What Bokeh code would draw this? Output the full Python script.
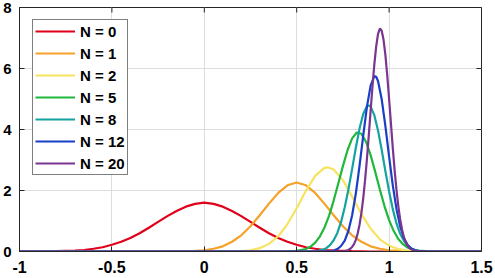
import math
from bokeh.plotting import figure
from bokeh.models import FixedTicker, Legend, LegendItem, Range1d
from bokeh.embed import file_html
from bokeh.resources import INLINE

# ---------------- data ----------------
labels = ["N = 0", "N = 1", "N = 2", "N = 5", "N = 8", "N = 12", "N = 20"]
colors = ["#e0001a", "#f5a12a", "#f7e35e", "#1fb83c", "#14a3a0", "#1a3fc7", "#7a3590"]

x0 = [-1.0, -0.9, -0.85, -0.8, -0.75, -0.7, -0.65, -0.6, -0.55, -0.5,
      -0.45, -0.4, -0.35, -0.3, -0.25, -0.2, -0.15, -0.1, -0.05, 0.0,
      0.05, 0.1, 0.15, 0.2, 0.25, 0.3, 0.35, 0.4, 0.45, 0.5,
      0.55, 0.6, 0.65, 0.7, 0.75, 0.8, 0.85, 0.9, 1.0, 1.5]
y0 = [0.0, 0.0, 0.005, 0.01, 0.02, 0.03, 0.05, 0.09, 0.14, 0.22,
      0.32, 0.44, 0.60, 0.78, 0.97, 1.16, 1.33, 1.47, 1.56, 1.60,
      1.56, 1.47, 1.33, 1.16, 0.97, 0.78, 0.60, 0.44, 0.32, 0.22,
      0.14, 0.09, 0.05, 0.03, 0.02, 0.01, 0.005, 0.0, 0.0, 0.0]

x1 = [-1.0, -0.2, -0.1, -0.05, 0.0, 0.05, 0.1, 0.15, 0.2, 0.25,
      0.3, 0.35, 0.4, 0.45, 0.5, 0.55, 0.6, 0.65, 0.7, 0.75,
      0.8, 0.85, 0.9, 0.95, 1.0, 1.05, 1.1, 1.2, 1.5]
y1 = [0.0, 0.0, 0.01, 0.02, 0.04, 0.09, 0.17, 0.32, 0.53, 0.83,
      1.19, 1.57, 1.92, 2.17, 2.26, 2.17, 1.92, 1.57, 1.19, 0.83,
      0.53, 0.32, 0.17, 0.09, 0.04, 0.02, 0.01, 0.0, 0.0]

x2 = [-1.0, 0.15, 0.2, 0.25, 0.3, 0.35, 0.4, 0.45, 0.5, 0.55,
      0.6, 0.65, 0.667, 0.7, 0.75, 0.8, 0.85, 0.9, 0.95, 1.0,
      1.05, 1.1, 1.15, 1.2, 1.5]
y2 = [0.0, 0.0, 0.01, 0.04, 0.11, 0.25, 0.50, 0.90, 1.42, 1.99,
      2.48, 2.74, 2.76, 2.69, 2.34, 1.80, 1.23, 0.75, 0.40, 0.19,
      0.08, 0.03, 0.01, 0.0, 0.0]

x5 = [-1.0, 0.4, 0.5, 0.55, 0.575, 0.6, 0.625, 0.65, 0.675, 0.7, 0.725,
      0.75, 0.775, 0.8, 0.825, 0.85, 0.875, 0.9, 0.925, 0.95, 0.975,
      1.0, 1.025, 1.05, 1.075, 1.1, 1.125, 1.15, 1.2, 1.25, 1.5]
y5 = [0.0, 0.0, 0.02, 0.08, 0.16, 0.29, 0.49, 0.78, 1.17, 1.67, 2.23,
      2.80, 3.32, 3.71, 3.90, 3.86, 3.60, 3.16, 2.61, 2.03, 1.49,
      1.03, 0.67, 0.41, 0.24, 0.13, 0.07, 0.03, 0.01, 0.0, 0.0]

x8 = [-1.0, 0.55, 0.6, 0.62, 0.64, 0.66, 0.68, 0.70, 0.72, 0.74, 0.76,
      0.78, 0.80, 0.82, 0.84, 0.86, 0.88, 0.89, 0.90, 0.92, 0.94,
      0.96, 0.98, 1.00, 1.02, 1.04, 1.06, 1.08, 1.10, 1.12, 1.14,
      1.16, 1.18, 1.2, 1.5]
y8 = [0.0, 0.0, 0.01, 0.03, 0.06, 0.11, 0.21, 0.37, 0.61, 0.97, 1.45,
      2.04, 2.71, 3.40, 4.03, 4.51, 4.76, 4.79, 4.75, 4.47, 3.97,
      3.33, 2.63, 1.97, 1.39, 0.92, 0.58, 0.35, 0.19, 0.10, 0.05,
      0.02, 0.01, 0.0, 0.0]

x12 = [-1.0, 0.66, 0.68, 0.70, 0.72, 0.74, 0.76, 0.78, 0.80, 0.82,
       0.84, 0.86, 0.88, 0.90, 0.92, 0.93, 0.94, 0.96, 0.98, 1.00,
       1.02, 1.04, 1.06, 1.08, 1.10, 1.12, 1.14, 1.16, 1.18, 1.2, 1.5]
y12 = [0.0, 0.0, 0.01, 0.03, 0.08, 0.18, 0.36, 0.68, 1.19, 1.90,
       2.81, 3.80, 4.74, 5.44, 5.75, 5.73, 5.59, 4.99, 4.11, 3.11,
       2.17, 1.39, 0.82, 0.44, 0.22, 0.10, 0.04, 0.02, 0.01, 0.0, 0.0]

x20 = [-1.0, 0.74, 0.76, 0.77, 0.78, 0.79, 0.80, 0.81, 0.82, 0.83,
       0.84, 0.85, 0.86, 0.87, 0.88, 0.89, 0.90, 0.91, 0.92, 0.93,
       0.94, 0.95, 0.96, 0.97, 0.98, 0.99, 1.00, 1.01, 1.02, 1.03,
       1.04, 1.05, 1.06, 1.07, 1.08, 1.09, 1.10, 1.11, 1.12, 1.13,
       1.14, 1.16, 1.2, 1.5]
y20 = [0.0, 0.0, 0.01, 0.03, 0.05, 0.09, 0.15, 0.24, 0.38, 0.59,
       0.88, 1.26, 1.74, 2.34, 3.03, 3.80, 4.61, 5.41, 6.13, 6.72,
       7.13, 7.31, 7.24, 6.94, 6.44, 5.77, 5.00, 4.19, 3.39, 2.66,
       2.02, 1.48, 1.05, 0.72, 0.47, 0.30, 0.19, 0.11, 0.07, 0.04,
       0.02, 0.01, 0.0, 0.0]

xs = [x0, x1, x2, x5, x8, x12, x20]
ys = [y0, y1, y2, y5, y8, y12, y20]

xticks = [-1, -0.5, 0, 0.5, 1, 1.5]
xtick_labels = ["-1", "-0.5", "0", "0.5", "1", "1.5"]
yticks = [0, 2, 4, 6, 8]
ytick_labels = ["0", "2", "4", "6", "8"]
x_range = (-1, 1.5)
y_range = (0, 8)

# ---------------- figure ----------------
FONT = "Liberation Sans"
AX = "#262626"

p = figure(width=495, height=278, x_range=Range1d(*x_range), y_range=Range1d(*y_range),
           output_backend="svg", toolbar_location=None,
           min_border_left=18, min_border_right=14, min_border_top=7, min_border_bottom=27)
p.outline_line_color = AX
p.outline_line_width = 1
p.background_fill_color = "white"
p.border_fill_color = "white"

xt = FixedTicker(ticks=xticks)
yt = FixedTicker(ticks=yticks)

for ax in p.xaxis:
    ax.ticker = xt
    ax.major_label_overrides = {float(t): l for t, l in zip(xticks, xtick_labels)}
for ax in p.yaxis:
    ax.ticker = yt
    ax.major_label_overrides = {float(t): l for t, l in zip(yticks, ytick_labels)}
p.xgrid.ticker = xt
p.ygrid.ticker = yt

for ax, size, standoff in ((p.xaxis, "16px", 9), (p.yaxis, "15px", 8)):
    ax.major_label_text_font = FONT
    ax.major_label_text_font_style = "bold"
    ax.major_label_text_font_size = size
    ax.major_label_text_color = "black"
    ax.major_label_standoff = standoff
    ax.axis_line_color = AX
    ax.major_tick_line_color = AX
    ax.major_tick_in = 5
    ax.major_tick_out = 0
    ax.minor_tick_line_color = None

p.grid.grid_line_color = "#dedede"
p.grid.grid_line_width = 1

# inward ticks on the top and right edges of the box
p.ray(x=xticks, y=[y_range[1]] * len(xticks), length=5, length_units="screen",
      angle=-math.pi / 2, line_color=AX, line_width=1)
p.ray(x=[x_range[1]] * len(yticks), y=yticks, length=5, length_units="screen",
      angle=math.pi, line_color=AX, line_width=1)

items = []
for x, y, c, lab in zip(xs, ys, colors, labels):
    r = p.line(x, y, line_color=c, line_width=2.2)
    items.append(LegendItem(label=lab, renderers=[r]))

legend = Legend(items=items, location=(13, 76))
legend.label_text_font = FONT
legend.label_text_font_style = "bold"
legend.label_text_font_size = "15px"
legend.label_text_color = "black"
legend.glyph_width = 40
legend.glyph_height = 18
legend.label_height = 18
legend.spacing = 4
legend.padding = 2
legend.margin = 0
legend.label_standoff = 5
legend.border_line_color = "black"
legend.border_line_width = 1
legend.background_fill_color = "white"
legend.background_fill_alpha = 1
p.add_layout(legend)

open("out.html", "w").write(file_html(p, INLINE))
